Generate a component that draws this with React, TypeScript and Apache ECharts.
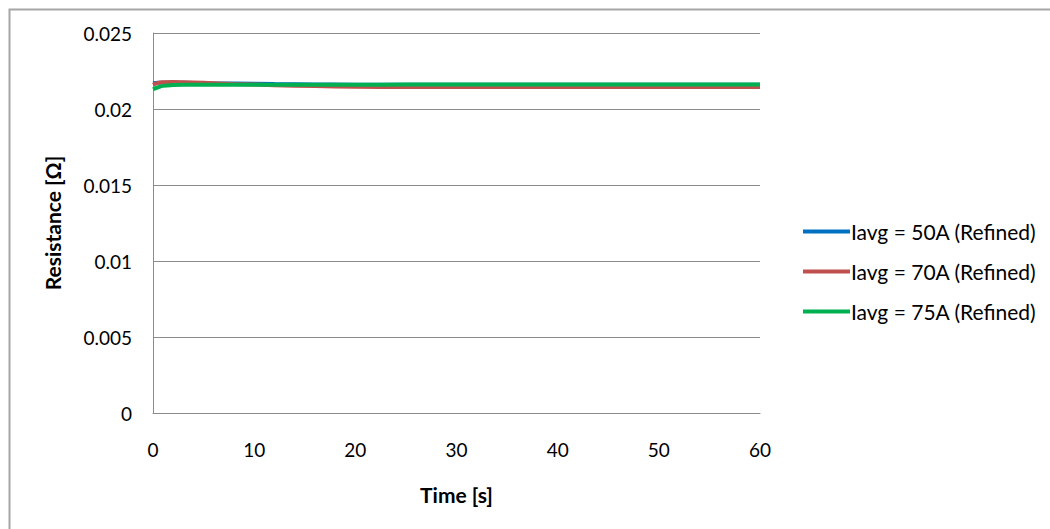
import React, { useEffect, useRef } from "react";
import * as echarts from "echarts";

const times = [0, 0.5, 1, 2, 3, 5, 8, 12, 16, 20, 25, 30, 40, 50, 60];
const iavg50 = [0.0217, 0.02172, 0.02173, 0.02174, 0.02173, 0.0217, 0.02167, 0.02164, 0.02162, 0.0216, 0.0216, 0.0216, 0.0216, 0.0216, 0.0216];
const iavg70 = [0.0216, 0.02172, 0.02176, 0.02177, 0.02176, 0.02172, 0.02165, 0.02157, 0.02151, 0.02147, 0.02145, 0.02145, 0.02145, 0.02145, 0.02145];
const iavg75 = [0.0213, 0.02143, 0.02152, 0.02158, 0.0216, 0.0216, 0.0216, 0.02159, 0.02159, 0.02159, 0.02161, 0.02162, 0.02162, 0.02162, 0.02162];
const seriesNames = ["Iavg = 50A (Refined)", "Iavg = 70A (Refined)", "Iavg = 75A (Refined)"];
const colors = ["#0070C0", "#C0504D", "#00B050"];

const FONT = "Lato, 'Open Sans', sans-serif";

export default function App() {
  const ref = useRef<HTMLDivElement>(null);
  useEffect(() => {
    if (!ref.current) return;
    const chart = echarts.init(ref.current, undefined, { renderer: "svg" });
    const mk = (vals: number[]) => times.map((t, i) => [t, vals[i]]);
    const allData = [iavg50, iavg70, iavg75];
    chart.setOption({
      animation: false,
      backgroundColor: "#ffffff",
      graphic: [
        {
          type: "rect",
          shape: { x: 9.5, y: 9.5, width: 1100, height: 600 },
          style: { fill: "none", stroke: "#a6a6a6", lineWidth: 2 },
          silent: true,
        },
      ],
      grid: { left: 153, top: 33, width: 607, height: 380, containLabel: false },
      xAxis: {
        type: "value",
        min: 0,
        max: 60,
        interval: 10,
        name: "Time [s]",
        nameLocation: "middle",
        nameGap: 71,
        nameTextStyle: { fontFamily: FONT, fontSize: 21, fontWeight: "bold", color: "#000" },
        axisLine: { show: true, lineStyle: { color: "#8c8c8c", width: 1 } },
        axisTick: { show: false },
        splitLine: { show: false },
        axisLabel: { fontFamily: FONT, fontSize: 19, color: "#000", margin: 27 },
      },
      yAxis: {
        type: "value",
        min: 0,
        max: 0.025,
        interval: 0.005,
        name: "Resistance [Ω]",
        nameLocation: "middle",
        nameGap: 90,
        nameRotate: 90,
        nameTextStyle: { fontFamily: FONT, fontSize: 21, fontWeight: "bold", color: "#000" },
        axisLine: { show: true, lineStyle: { color: "#8c8c8c", width: 1 } },
        axisTick: { show: false },
        splitLine: { show: true, lineStyle: { color: "#8c8c8c", width: 1 } },
        axisLabel: { fontFamily: FONT, fontSize: 19, color: "#000", margin: 21 },
      },
      legend: {
        orient: "vertical",
        left: 803,
        top: 221,
        padding: 0,
        itemWidth: 47,
        itemHeight: 4,
        itemGap: 19,
        icon: "rect",
        textStyle: { fontFamily: FONT, fontSize: 21, color: "#000", padding: [0, 0, 0, -4] },
        data: seriesNames,
      },
      series: seriesNames.map((name, i) => ({
        name,
        type: "line",
        data: mk(allData[i]),
        showSymbol: false,
        symbol: "none",
        smooth: true,
        color: colors[i],
        lineStyle: { color: colors[i], width: 4 },
      })),
    });
    return () => chart.dispose();
  }, []);
  return (
    <div
      ref={ref}
      style={{ position: "absolute", left: 0, top: 0, width: 1050, height: 529 }}
    />
  );
}
